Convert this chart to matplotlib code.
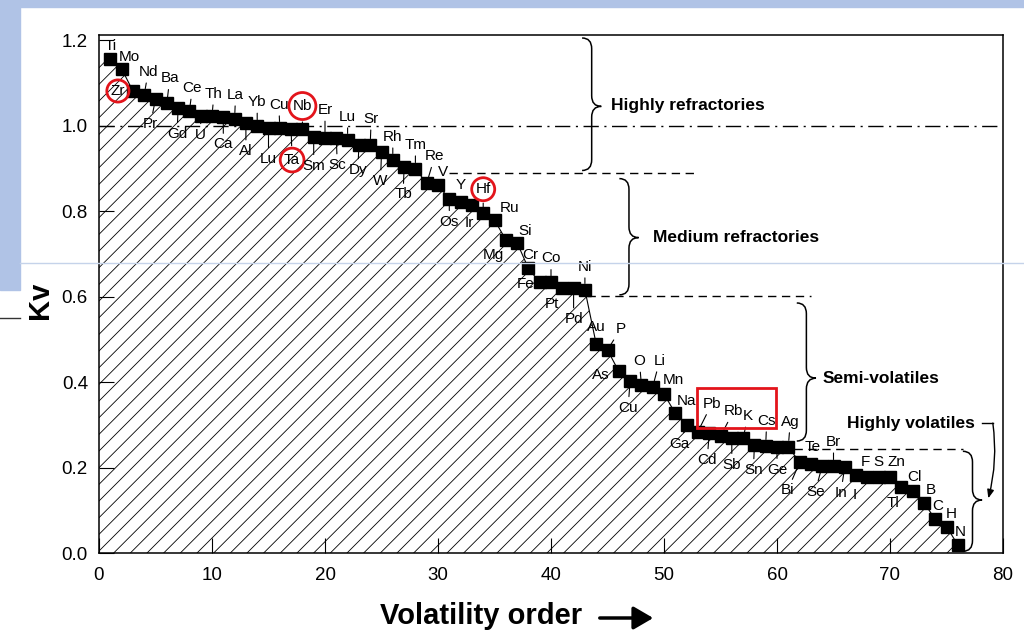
import numpy as np
import matplotlib
matplotlib.use("Agg")
import matplotlib.pyplot as plt
from matplotlib.path import Path
from matplotlib.patches import PathPatch, Rectangle, FancyArrowPatch
from matplotlib.lines import Line2D

plt.rcParams["font.family"] = ["Liberation Sans", "DejaVu Sans"]
plt.rcParams["hatch.linewidth"] = 0.6
plt.rcParams["hatch.color"] = "black"

# element symbols in volatility order, with their Kv values
elements = ["Ti", "Mo", "Zr", "Nd", "Pr", "Ba", "Gd", "Ce", "U", "Th",
            "Ca", "La", "Al", "Yb", "Lu", "Cu", "Ta", "Nb", "Sm", "Er",
            "Sc", "Lu", "Dy", "Sr", "W", "Rh", "Tb", "Tm", "Re", "V",
            "Os", "Y", "Ir", "Hf", "Ru", "Mg", "Si", "Cr", "Fe", "Co",
            "Pt", "Pd", "Ni", "Au", "P", "As", "Cu", "O", "Li", "Mn",
            "Na", "Ga", "Pb", "Cd", "Rb", "Sb", "K", "Sn", "Cs", "Ge",
            "Ag", "Bi", "Te", "Se", "Br", "In", "I", "F", "S", "Zn",
            "Tl", "Cl", "B", "C", "H", "N"]
kv = [1.156, 1.133, 1.081, 1.072, 1.062, 1.052, 1.042, 1.034, 1.023, 1.023,
      1.019, 1.016, 1.006, 0.999, 0.995, 0.995, 0.992, 0.992, 0.974, 0.971,
      0.971, 0.967, 0.955, 0.955, 0.938, 0.920, 0.902, 0.899, 0.865, 0.860,
      0.829, 0.821, 0.815, 0.795, 0.779, 0.733, 0.726, 0.666, 0.633, 0.633,
      0.620, 0.620, 0.616, 0.489, 0.475, 0.425, 0.403, 0.393, 0.389, 0.372,
      0.327, 0.300, 0.284, 0.281, 0.273, 0.270, 0.269, 0.253, 0.251, 0.249,
      0.249, 0.212, 0.209, 0.204, 0.204, 0.202, 0.183, 0.178, 0.178, 0.178,
      0.155, 0.146, 0.118, 0.079, 0.062, 0.019]
order = np.arange(1, len(elements) + 1)

circled = ["Zr", "Ta", "Nb", "Hf"]

# label placement (pixel offsets from the marker) and whether a leader is drawn
label_dx = [0, 8, -15, 4, -5, 3, -1, 3, 0, 2,
            0, 1, 0, 0, 0, -1, 1, 0, 0, 0,
            1, 0, -1, 1, -1, 0, -1, 0, 8, 5,
            0, 0, -3, 0, 15, -12, 8, 2, -14, 0,
            -10, 0, 0, 0, 13, -18, -2, -2, 7, 9,
            11, -7, 14, -2, 13, 0, 5, -1, 1, 0,
            2, -12, 2, -7, 0, -4, -1, -2, 0, 6,
            -8, 2, 7, 3, 5, 2]
label_dy = [13, 12, 0, 23, -25, 25, -26, 23, -19, 22,
            -27, 24, -28, 24, -31, 23, -31, 23, -29, 28,
            -27, 23, -25, 26, -29, 23, -27, 24, 27, 13,
            -23, 17, -18, 24, 12, -15, 12, 13, -2, 24,
            -16, -31, 23, 17, 21, -4, -27, 24, 26, 14,
            12, -19, 28, -27, 25, -27, 22, -25, 25, -23,
            25, -28, 17, -26, 24, -26, -20, 15, 15, 15,
            -16, 14, 13, 13, 13, 13]
leader = [0, 0, 0, 1, 1, 1, 1, 1, 1, 1,
          1, 1, 1, 1, 1, 1, 1, 1, 1, 1,
          1, 1, 1, 1, 1, 1, 1, 1, 1, 0,
          1, 0, 1, 1, 0, 1, 0, 0, 0, 1,
          1, 1, 1, 0, 1, 0, 1, 1, 1, 0,
          0, 1, 1, 1, 1, 1, 1, 1, 1, 1,
          1, 1, 0, 1, 1, 1, 0, 0, 0, 0,
          0, 0, 0, 0, 0, 0]

groups = ["Highly refractories", "Medium refractories", "Semi-volatiles", "Highly volatiles"]

RED = "#e3141b"

fig = plt.figure(figsize=(10.24, 6.37), dpi=100)

# slide background pieces
fig.patches.append(Rectangle((0, 1 - 7 / 637), 1, 7 / 637, transform=fig.transFigure,
                             color="#b0c3e6", zorder=0))
fig.patches.append(Rectangle((0, 1 - 290 / 637), 20 / 1024, 290 / 637, transform=fig.transFigure,
                             color="#b0c3e6", zorder=0))
fig.lines.append(Line2D([0, 20 / 1024], [1 - 318 / 637] * 2, transform=fig.transFigure,
                        color="#333333", lw=1.0))

ax = fig.add_axes([99 / 1024, 1 - 553 / 637, 904 / 1024, 518 / 637])
ax.set_xlim(0, 80)
ax.set_ylim(0, 1.212)

# hatched area under the curve
x_fill = np.r_[0, order]
y_fill = np.r_[kv[0], kv]
ax.fill_between(x_fill, y_fill, 0, facecolor="none", edgecolor="black",
                hatch="//", linewidth=0, zorder=1)
ax.plot(order, kv, color="black", lw=0.8, zorder=2)
ax.plot(order, kv, "s", ms=8, color="black", zorder=3)

# reference lines
ax.plot([0, 80], [1.0, 1.0], color="black", lw=1.0, ls=(0, (11, 4, 1.5, 4)), zorder=1.5)
ax.plot([31, 53], [0.888, 0.888], color="black", lw=1.0, ls=(0, (6, 4)))
ax.plot([43.2, 63], [0.601, 0.601], color="black", lw=1.0, ls=(0, (6, 4)))
ax.plot([61.5, 76.5], [0.243, 0.243], color="black", lw=1.0, ls=(0, (6, 4)))

# element labels
for i, name in enumerate(elements):
    kw = dict(textcoords="offset pixels", ha="center", va="center", fontsize=11, zorder=4)
    if leader[i]:
        kw["arrowprops"] = dict(arrowstyle="-", lw=0.8, color="black", shrinkA=1, shrinkB=4.5)
    if name in circled:
        kw["bbox"] = dict(boxstyle="circle,pad=0.25", fc="none", ec=RED, lw=2)
    ax.annotate(name, xy=(order[i], kv[i]), xytext=(label_dx[i], label_dy[i]), **kw)

ax.add_patch(Rectangle((52.9, 0.293), 7.0, 0.093, fill=False, ec=RED, lw=2, zorder=5))


def brace(x, y_top, y_mid, y_bot, w, r):
    verts = [(x - w, y_top), (x, y_top), (x, y_top - r), (x, y_mid + r),
             (x, y_mid), (x + w, y_mid), (x, y_mid), (x, y_mid - r),
             (x, y_bot + r), (x, y_bot), (x - w, y_bot)]
    codes = [Path.MOVETO, Path.CURVE3, Path.CURVE3, Path.LINETO,
             Path.CURVE3, Path.CURVE3, Path.CURVE3, Path.CURVE3,
             Path.LINETO, Path.CURVE3, Path.CURVE3]
    ax.add_patch(PathPatch(Path(verts, codes), fc="none", ec="black", lw=1.1,
                           clip_on=False, zorder=4))


brace(43.6, 1.205, 1.045, 0.895, 0.85, 0.025)
brace(46.9, 0.876, 0.738, 0.604, 0.85, 0.025)
brace(62.6, 0.585, 0.409, 0.262, 0.85, 0.025)
brace(77.3, 0.238, 0.124, 0.004, 0.85, 0.025)

text_kw = dict(fontsize=12.5, fontweight="bold", va="center")
ax.text(45.3, 1.047, groups[0], **text_kw)
ax.text(49.0, 0.738, groups[1], **text_kw)
ax.text(64.0, 0.409, groups[2], **text_kw)
ax.text(66.2, 0.304, groups[3], **text_kw)
ax.plot([78.1, 79.1], [0.304, 0.304], color="black", lw=1.0)
ax.annotate("", xy=(78.7, 0.128), xytext=(79.1, 0.304),
            arrowprops=dict(arrowstyle="-|>,head_length=0.5,head_width=0.2", lw=1.0,
                            color="black", shrinkA=0, shrinkB=0,
                            connectionstyle="arc3,rad=-0.1"))

ax.set_xticks(np.arange(0, 81, 10))
ax.set_yticks(np.arange(0, 1.21, 0.2))
ax.set_yticklabels([f"{v:.1f}" for v in np.arange(0, 1.21, 0.2)])
ax.tick_params(direction="in", length=11, width=0.8, labelsize=13.5)
ax.tick_params(axis="x", pad=10)
ax.tick_params(axis="y", pad=8)
for s in ax.spines.values():
    s.set_linewidth(1.1)

fig.text(40 / 1024, 1 - 300 / 637, "Kv", rotation=90, fontsize=21, fontweight="bold",
         ha="center", va="center")
fig.text(481 / 1024, 1 - 616 / 637, "Volatility order", fontsize=21, fontweight="bold",
         ha="center", va="center")
fig.patches.append(FancyArrowPatch(
    (597 / 1024, 1 - 618 / 637), (656 / 1024, 1 - 618 / 637), transform=fig.transFigure,
    arrowstyle="-|>,head_length=6,head_width=3.5", lw=2.5, color="black", mutation_scale=2))

# faint slide guide line crossing the picture
fig.lines.append(Line2D([20 / 1024, 1], [1 - 263 / 637] * 2, transform=fig.transFigure,
                        color="#c5d3ea", lw=1.0, zorder=10))

fig.savefig("out.png", dpi=100)
